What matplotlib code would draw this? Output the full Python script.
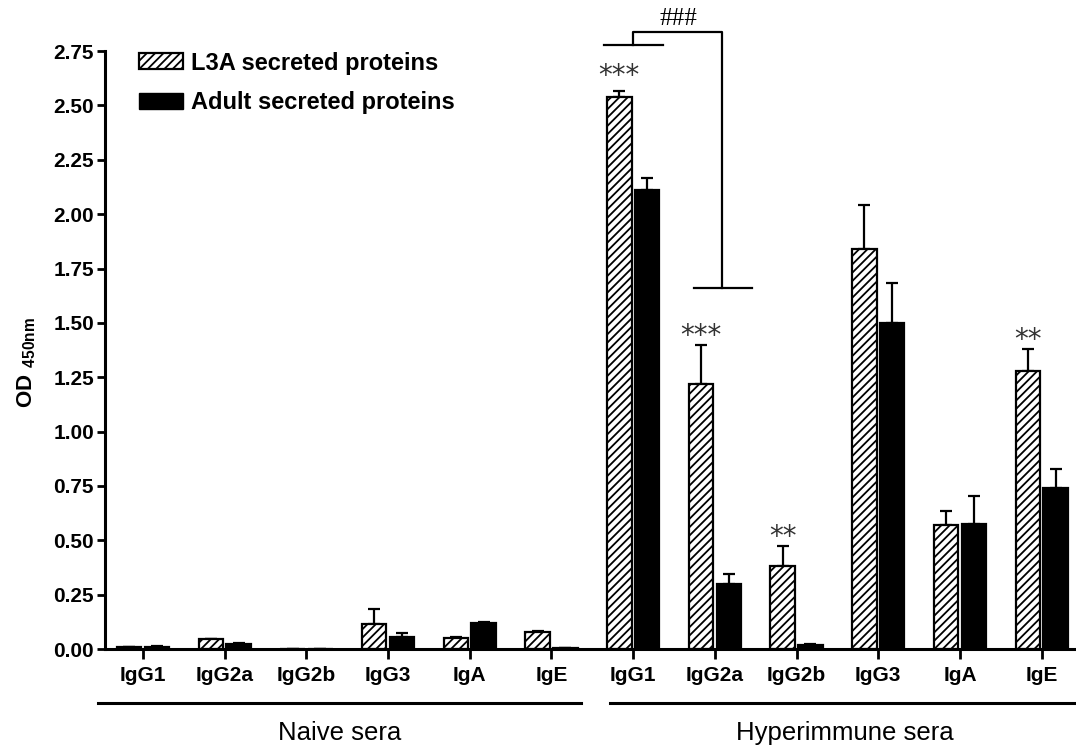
import numpy as np
import matplotlib
matplotlib.use("Agg")
import matplotlib.pyplot as plt
from matplotlib.patches import Patch

plt.rcParams['font.family'] = ['Liberation Sans', 'DejaVu Sans']
plt.rcParams['mathtext.fontset'] = 'custom'
plt.rcParams['mathtext.rm'] = 'Liberation Sans'
plt.rcParams['mathtext.bf'] = 'Liberation Sans:bold'
plt.rcParams['hatch.linewidth'] = 1.3

# data
categories = ['IgG1', 'IgG2a', 'IgG2b', 'IgG3', 'IgA', 'IgE'] * 2
l3a_mean = [0.01, 0.045, 0.0, 0.115, 0.05, 0.08,
            2.54, 1.22, 0.38, 1.84, 0.57, 1.28]
l3a_err = [0.0, 0.0, 0.0, 0.07, 0.005, 0.005,
           0.025, 0.18, 0.095, 0.20, 0.065, 0.10]
adult_mean = [0.01, 0.025, 0.0, 0.055, 0.12, 0.005,
              2.11, 0.30, 0.02, 1.50, 0.575, 0.74]
adult_err = [0.003, 0.003, 0.0, 0.02, 0.003, 0.0,
             0.055, 0.045, 0.005, 0.185, 0.13, 0.09]
# significance marks: (category index, centre of the stars, text)
stars = [(6, 2.675, '***'), (7, 1.48, '***'), (8, 0.555, '**'), (11, 1.46, '**')]
groups = [('Naive sera', -0.55, 5.36), ('Hyperimmune sera', 5.72, 11.45)]

x = np.arange(len(categories))
w = 0.30
off = 0.17

fig = plt.figure(figsize=(10.76, 7.51), dpi=100)
ax = fig.add_axes([0.0976, 0.1358, 0.9024, 0.7962])

ax.bar(x - off, l3a_mean, w, color='white', edgecolor='black', hatch='////',
       linewidth=1.6, label='L3A secreted proteins', zorder=2)
ax.bar(x + off, adult_mean, w, color='black', edgecolor='black',
       linewidth=1.6, label='Adult secreted proteins', zorder=2)
ax.errorbar(x - off, l3a_mean, yerr=[np.zeros(len(x)), l3a_err], fmt='none',
            ecolor='black', elinewidth=1.6, capsize=4.5, capthick=1.6, zorder=1)
ax.errorbar(x + off, adult_mean, yerr=[np.zeros(len(x)), adult_err], fmt='none',
            ecolor='black', elinewidth=1.6, capsize=4.5, capthick=1.6, zorder=1)

ax.set_xlim(-0.465, 11.42)
ax.set_ylim(0, 2.75)
ax.set_yticks(np.arange(0, 2.76, 0.25))
ax.set_yticklabels([f'{v:.2f}' for v in np.arange(0, 2.76, 0.25)],
                   fontsize=15, fontweight='bold')
ax.set_xticks(x)
ax.set_xticklabels(categories, fontsize=15, fontweight='bold')
ax.tick_params(axis='y', direction='out', length=6, width=2, pad=2)
ax.tick_params(axis='x', direction='out', length=7, width=2, pad=5)
for s in ['top', 'right']:
    ax.spines[s].set_visible(False)
for s in ['left', 'bottom']:
    ax.spines[s].set_linewidth(2.2)

fig.text(0.025, 0.518, r'$\mathbf{OD}\ _{\mathbf{450nm}}$', rotation=90,
         fontsize=16, ha='center', va='center')

# the asterisk glyph sits high above its baseline, so shift down a bit
for i, yv, t in stars:
    ax.text(i - off, yv - 0.076, t, ha='center', va='baseline', fontsize=20,
            family='DejaVu Sans', color='#333333', clip_on=False)

# comparison bracket
bk = dict(color='black', linewidth=1.6, clip_on=False)
ax.plot([5.64, 6.36], [2.78, 2.78], **bk)
ax.plot([6.0, 6.0, 7.09, 7.09], [2.78, 2.837, 2.837, 1.66], **bk)
ax.plot([6.74, 7.45], [1.66, 1.66], **bk)
ax.text(6.55, 2.845, '###', ha='center', va='bottom', fontsize=18,
        family='Liberation Serif', clip_on=False)

for name, x0, x1 in groups:
    ax.plot([x0, x1], [-0.248, -0.248], color='black', linewidth=2.2, clip_on=False)
    ax.text((x0 + x1) / 2, -0.385, name, ha='center', va='center', fontsize=18.5)

handles = [Patch(facecolor='white', edgecolor='black', hatch='////', linewidth=1.6),
           Patch(facecolor='black', edgecolor='black')]
ax.legend(handles, ['L3A secreted proteins', 'Adult secreted proteins'],
          loc='upper left', bbox_to_anchor=(0.025, 1.015), frameon=False,
          prop={'size': 17, 'weight': 'bold'}, handlelength=1.86, handleheight=0.65,
          handletextpad=0.35, labelspacing=0.7, borderaxespad=0)

fig.savefig('out.png', dpi=100)
